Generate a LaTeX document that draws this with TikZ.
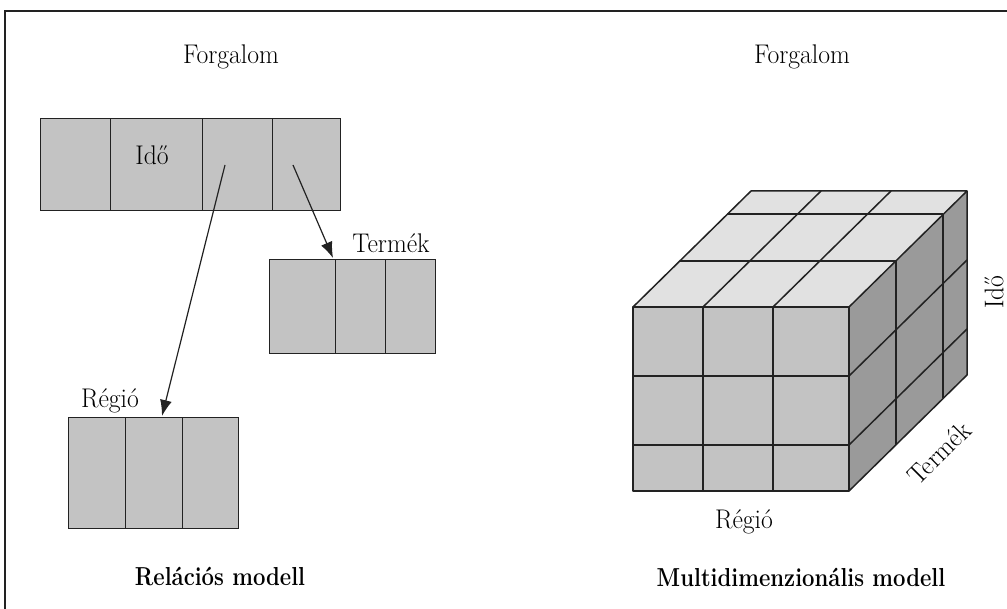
\documentclass[tikz,border=0pt]{standalone}
\usepackage{graphicx}
\usetikzlibrary{arrows.meta}
\definecolor{cellgray}{HTML}{C3C3C3}
\definecolor{topgray}{HTML}{E1E1E1}
\definecolor{sidegray}{HTML}{9A9A9A}
\definecolor{inkline}{HTML}{222222}
\newcommand{\narrow}[2]{\scalebox{#1}[1]{#2}}
\begin{document}
\begin{tikzpicture}[x=1pt,y=-1pt,
  lbl/.style={inner sep=0pt,font=\fontsize{27}{31}\selectfont},
  ttl/.style={inner sep=0pt,font=\fontsize{26}{30}\selectfont\bfseries},
  cell/.style={draw=inkline,fill=cellgray,line width=1.4pt,inner sep=0pt,anchor=north west},
  grid/.style={draw=inkline,line width=1.5pt,line join=round},
  link/.style={draw=inkline,line width=1.2pt,-{Latex[length=16pt,width=12pt]}}]
\useasboundingbox (0,0) rectangle (1007,609);
% frame
\draw[inkline,line width=1.6pt] (5,609) -- (5,11) -- (1007,11);

% ---------- relational model ----------
\node[lbl] (forg1) at (231,57) {\narrow{0.95}{Forgalom}};
% fact table
\node[cell,minimum width=70pt,minimum height=92pt] (f1) at (40,118) {};
\node[cell,minimum width=92pt,minimum height=92pt] (f2) at (110,118) {};
\node[cell,minimum width=70pt,minimum height=92pt] (f3) at (202,118) {};
\node[cell,minimum width=68pt,minimum height=92pt] (f4) at (272,118) {};
\node[lbl] (ido1) at (152,155) {\narrow{0.95}{Idő}};
% product table
\node[cell,minimum width=66pt,minimum height=94pt] (p1) at (269,259) {};
\node[cell,minimum width=50pt,minimum height=94pt] (p2) at (335,259) {};
\node[cell,minimum width=50pt,minimum height=94pt] (p3) at (385,259) {};
\node[lbl] (term1) at (391,243) {\narrow{0.95}{Termék}};
% region table
\node[cell,minimum width=57pt,minimum height=111pt] (r1) at (68,417) {};
\node[cell,minimum width=57pt,minimum height=111pt] (r2) at (125,417) {};
\node[cell,minimum width=56pt,minimum height=111pt] (r3) at (182,417) {};
\node[lbl] (reg1) at (110,401) {\narrow{0.95}{Régió}};
% foreign-key links
\coordinate (a1) at (225,165);
\coordinate (a2) at (293,165);
\coordinate (b1) at (162,416);
\coordinate (b2) at (333,258);
\draw[link] (a1) -- (b1);
\draw[link] (a2) -- (b2);
\node[ttl] (rel) at (220,577) {\narrow{0.85}{Relációs modell}};

% ---------- multidimensional model ----------
\node[lbl] (forg2) at (802,57) {\narrow{0.95}{Forgalom}};
% top face
\fill[topgray] (633,307) -- (849,307) -- (967,191) -- (751,191) -- cycle;
% right face
\fill[sidegray] (849,307) -- (967,191) -- (967,375) -- (849,491) -- cycle;
% front face
\fill[cellgray] (633,307) rectangle (849,491);
% front grid
\draw[grid] (633,307) rectangle (849,491);
\draw[grid] (703,307) -- (703,491);
\draw[grid] (773,307) -- (773,491);
\draw[grid] (633,376) -- (849,376);
\draw[grid] (633,445) -- (849,445);
% top grid
\draw[grid] (633,307) -- (751,191) -- (967,191) -- (849,307);
\draw[grid] (703,307) -- (821,191);
\draw[grid] (773,307) -- (891,191);
\draw[grid] (680,261) -- (896,261);
\draw[grid] (727,214) -- (943,214);
% side grid
\draw[grid] (967,191) -- (967,375) -- (849,491);
\draw[grid] (896,261) -- (896,445);
\draw[grid] (943,214) -- (943,398);
\draw[grid] (849,376) -- (967,260);
\draw[grid] (849,445) -- (967,329);
% axis labels
\node[lbl,rotate=90] (ido2) at (994,292) {\narrow{0.95}{Idő}};
\node[lbl,rotate=45] (term2) at (939,453) {\narrow{0.95}{Termék}};
\node[lbl] (reg2) at (744,522) {\narrow{0.95}{Régió}};
\node[ttl] (multi) at (801,577) {\narrow{0.85}{Multidimenzionális modell}};
\end{tikzpicture}
\end{document}
